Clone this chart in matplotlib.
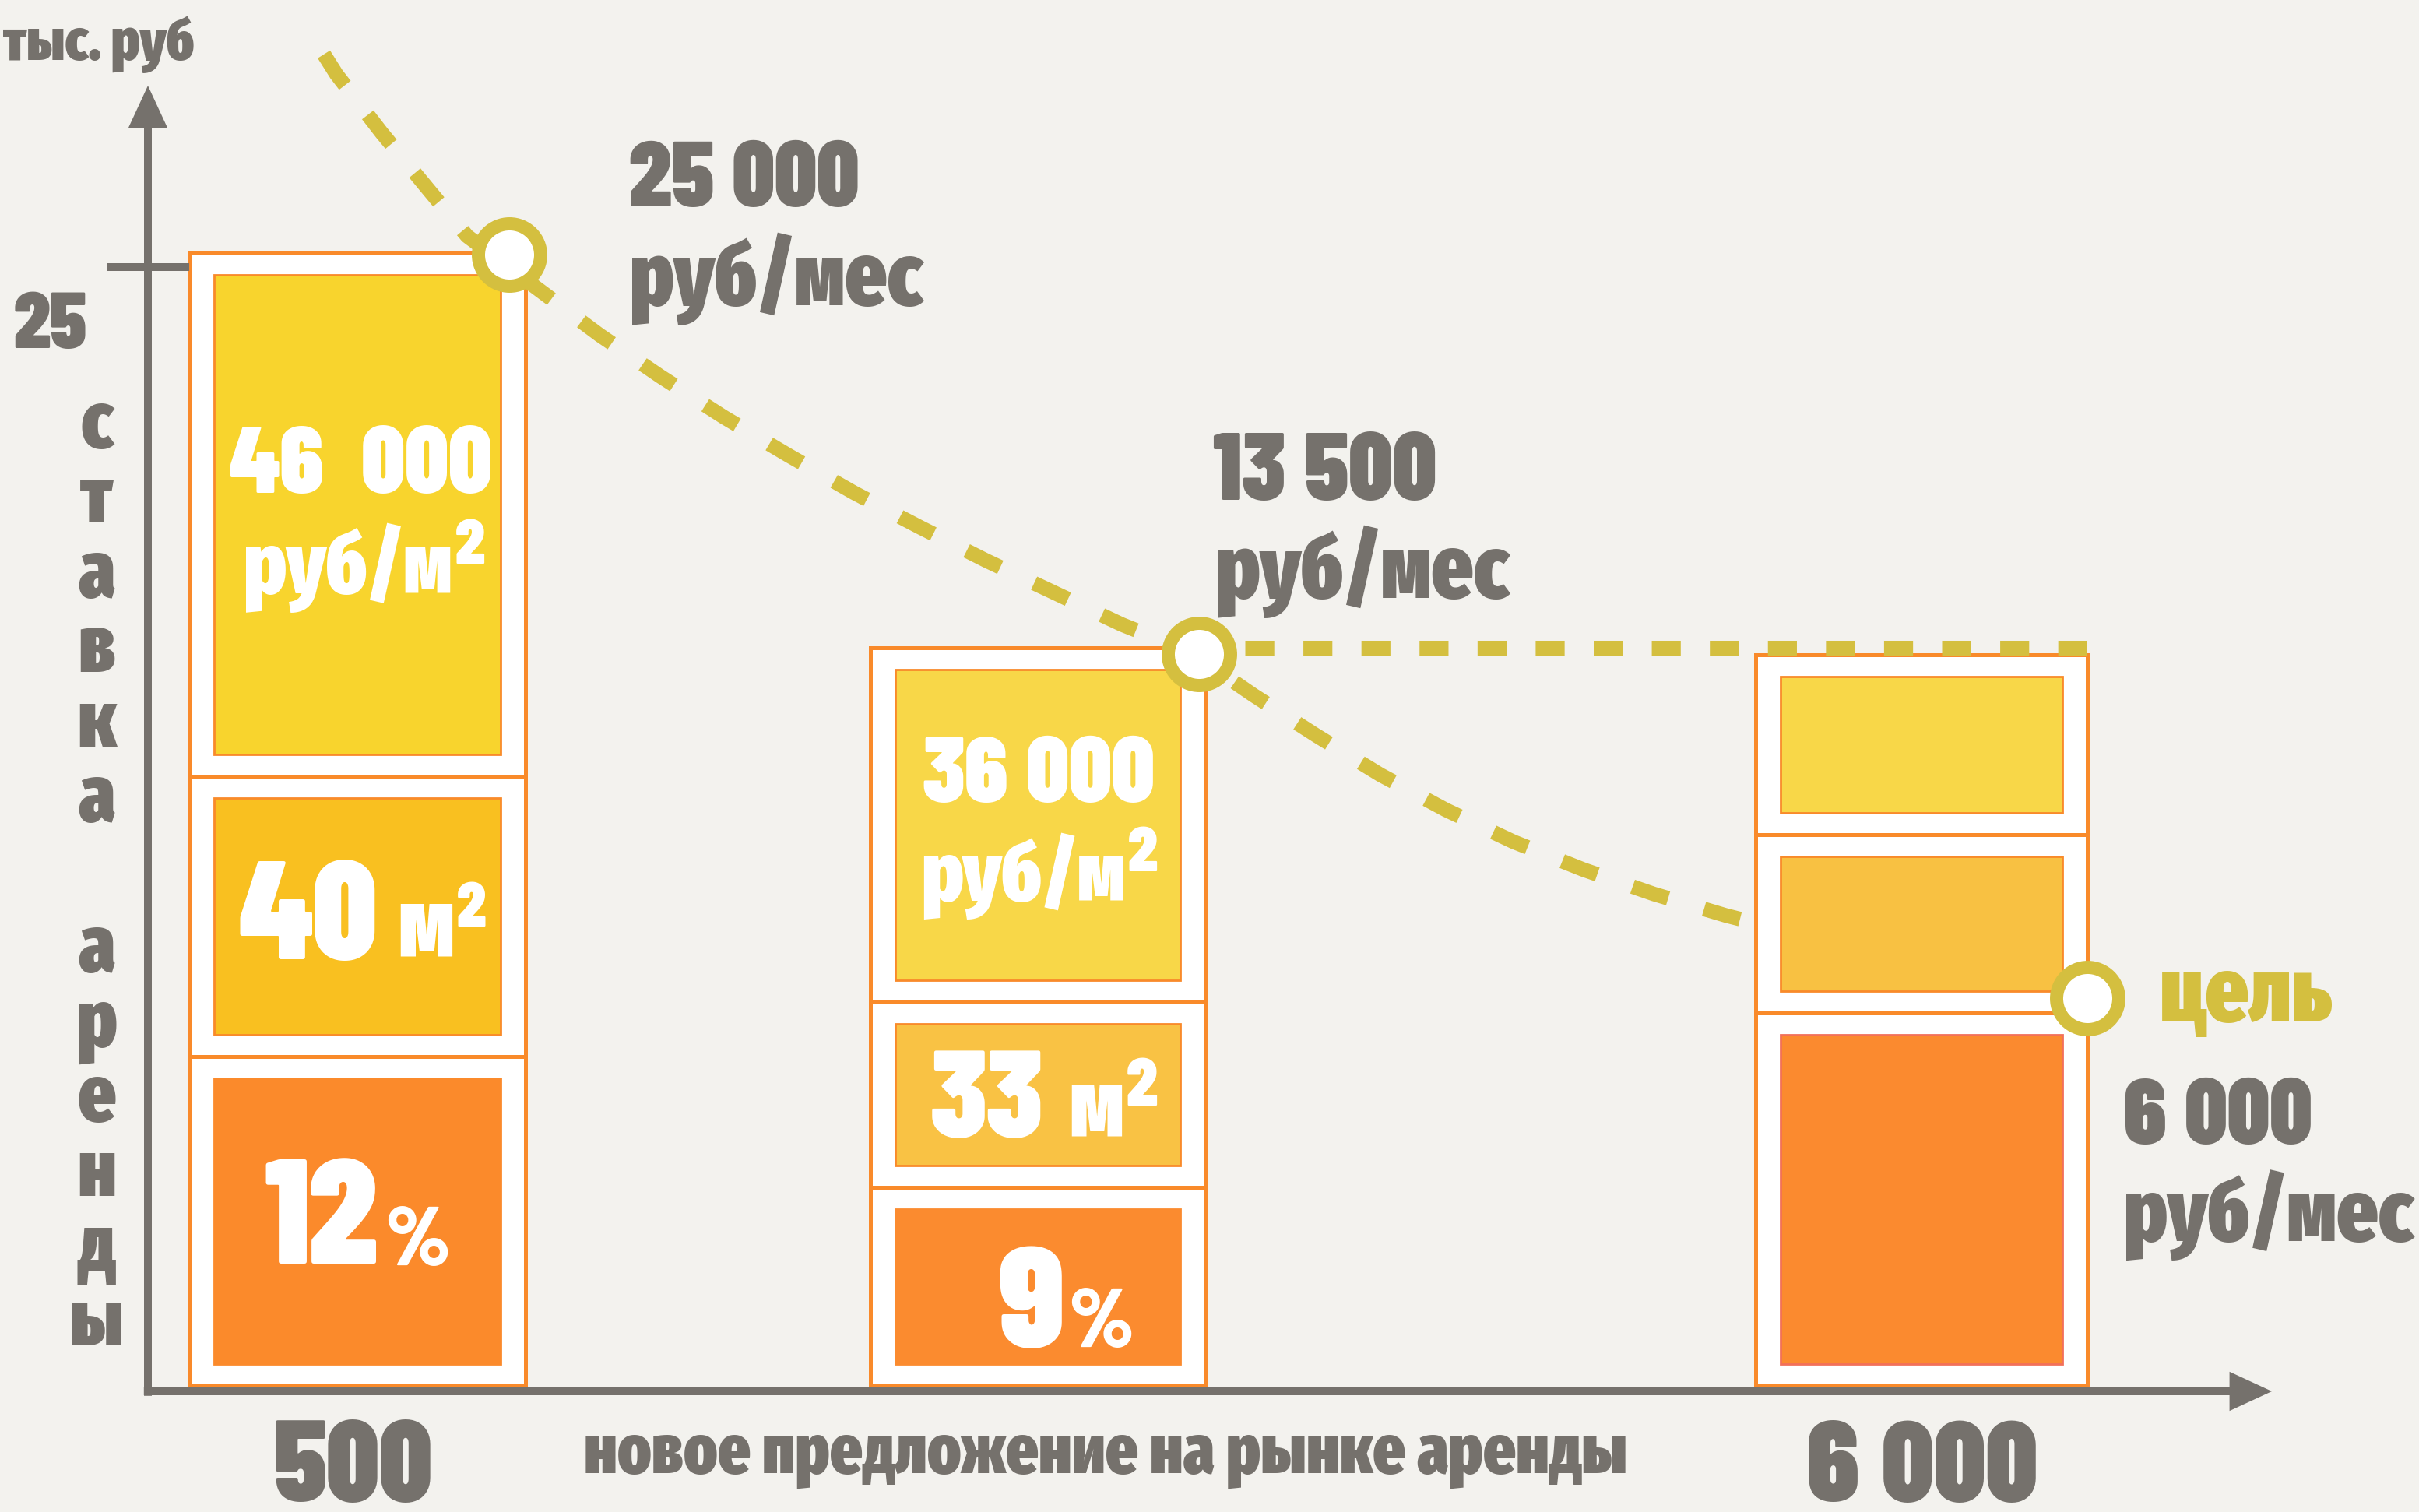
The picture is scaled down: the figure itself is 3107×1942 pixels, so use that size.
import numpy as np
import matplotlib
matplotlib.use("Agg")
import matplotlib.pyplot as plt
from matplotlib import font_manager as fm
from matplotlib.transforms import Affine2D

# ---------------- data ----------------
supply_labels = ["500", "6 000"]                 # new supply on the rental market
rent_values = ["25 000", "13 500", "6 000"]      # rent, руб/мес
price_values = ["46  000", "36 000"]             # price, руб/м2
area_values = ["40", "33"]                       # flat area, м2
yield_values = ["12", "9"]                       # yield, %
y_tick_value = 25
y_tick_label = "25"
y_unit_label = "тыс. руб"
y_axis_label = "ставка аренды"
x_axis_label = "новое предложение на рынке аренды"
goal_label = "цель"
unit_month = "руб/мес"
unit_price_base = "руб/м"
unit_area_base = "м"
unit_square = "2"
unit_pct = "%"

# stacked bars (chart units, y in тыс. руб scale)
bar_left = [0.918, 16.07, 35.75]
bar_width = [7.48, 7.44, 7.38]
seg_bounds = [[0.12, 7.44, 13.68, 25.31],
              [0.12, 4.54, 8.66, 16.53],
              [0.12, 8.41, 12.38, 16.38]]
seg_colors = [["#FB8A2B", "#F9C020", "#F8D42D"],
              ["#FB8B2F", "#F9C244", "#F8D748"],
              ["#FB8A2F", "#F8C142", "#F8D748"]]
seg_edges = [["#FB8A2B", "#F98A2A", "#F98A2A"],
             ["#FB8B2F", "#F98A2A", "#F98A2A"],
             ["#F2705A", "#F98A2A", "#F98A2A"]]

# rent markers and dashed rent curve
marker_x = [8.03, 23.37, 43.13]
marker_y = [25.28, 16.40, 8.74]
curve_x = [3.913, 4.190, 5.194, 6.250, 7.098, 8.864, 10.042, 11.409, 12.812,
           14.249, 15.703, 17.157, 18.646, 20.152, 21.659, 23.199, 24.584,
           25.987, 27.406, 28.861, 30.367, 31.925, 33.483, 35.093, 35.526]
curve_y = [29.73, 29.29, 27.99, 26.71, 25.69, 24.37, 23.49, 22.56, 21.66,
           20.81, 19.98, 19.22, 18.47, 17.76, 17.05, 16.43, 15.48,
           14.58, 13.71, 12.93, 12.22, 11.60, 11.06, 10.58, 10.47]
target_x = [24.39, 43.13]
target_y = [16.53, 16.53]

# ---------------- style ----------------
W, H = 3107, 1942
K = 57.76           # pixels per chart unit
X0, Y0 = 190, 1787  # pixel position of the origin
BG = "#F3F2EE"
GRAY = "#75716C"
OLIVE = "#D4BF3F"
ORANGE = "#F98A2A"
WHITE = "#FFFFFF"

names = {f.name for f in fm.fontManager.ttflist}


def pick(cands):
    for c in cands:
        if c in names:
            return c
    return "DejaVu Sans"


COND = pick(["Fira Sans Extra Condensed", "Sofia Sans Extra Condensed",
             "Roboto Condensed", "Fira Sans Condensed"])
DIG = pick(["Barlow Condensed", COND])

plt.rcParams["lines.scale_dashes"] = False

fig = plt.figure(figsize=(W / 100, H / 100), dpi=100, facecolor=BG)
ax = fig.add_axes([0, 0, 1, 1])
ax.set_facecolor(BG)
ax.set_xlim(-X0 / K, (W - X0) / K)
ax.set_ylim(-(H - Y0) / K, Y0 / K)
ax.axis("off")

ins_x = 32 / K
ins_y = 28 / K

# bars
for i in range(len(bar_left)):
    cx = bar_left[i] + bar_width[i] / 2
    b = seg_bounds[i]
    for j in range(len(b) - 1):
        h = b[j + 1] - b[j]
        ax.bar(cx, h, bottom=b[j], width=bar_width[i], color=WHITE,
               edgecolor=ORANGE, linewidth=3.6, zorder=2)
        ax.bar(cx, h - 2 * ins_y, bottom=b[j] + ins_y,
               width=bar_width[i] - 2 * ins_x, color=seg_colors[i][j],
               edgecolor=seg_edges[i][j], linewidth=2.0, zorder=3)

# axes with arrows
arrow = dict(arrowstyle="-|>,head_length=2.7,head_width=1.25", mutation_scale=10,
             lw=7.2, color=GRAY, shrinkA=0, shrinkB=0, joinstyle="miter",
             capstyle="butt")
ax.annotate("", xy=(0, (Y0 - 110) / K), xytext=(0, -0.1), arrowprops=arrow,
            zorder=5)
ax.annotate("", xy=((2918 - X0) / K, 0), xytext=(-0.09, 0), arrowprops=arrow,
            zorder=5)
tick_half = 53 / K
ax.plot([-tick_half, tick_half], [y_tick_value, y_tick_value], color=GRAY,
        lw=7.2, solid_capstyle="butt", zorder=5)

# dashed rent curve and target line
ax.plot(curve_x, curve_y, color=OLIVE, lw=13.5, dashes=(34.6, 34.6),
        dash_capstyle="butt", zorder=4)
ax.plot(target_x, target_y, color=OLIVE, lw=13.7, dashes=(26.8, 26.9),
        dash_capstyle="butt", zorder=4)
ax.plot(marker_x, marker_y, "o", ms=57.6, mfc=WHITE, mec=OLIVE, mew=12.2,
        ls="none", zorder=6)

# ---------------- texts (positioned in reference pixels) ----------------
PX = Affine2D().scale(1, -1).translate(0, H)
fitted = []
sups = []


def T(x, y, s, size, ha="left", color=WHITE, wmax=None, family=None):
    t = fig.text(x, y, s, transform=PX, fontsize=size, ha=ha, va="baseline",
                 color=color, family=family or COND, fontweight="black",
                 zorder=10)
    if wmax:
        fitted.append((t, wmax))
    return t


def SUP(main, y, size, color=WHITE):
    sups.append((main, y, size, color))


T(250, 77, y_unit_label, 62, ha="right", color=GRAY, wmax=246)
T(65, 447, y_tick_label, 81, ha="center", color=GRAY, wmax=94, family=DIG)

# rent labels
T(808, 265, rent_values[0], 89, color=GRAY, wmax=296, family=DIG)
T(809, 392, unit_month, 93, color=GRAY, wmax=376)
T(1558, 642, rent_values[1], 89, color=GRAY, wmax=287, family=DIG)
T(1562, 768, unit_month, 93, color=GRAY, wmax=376)
T(2774, 1312, goal_label, 93, color=OLIVE, wmax=222)
T(2728, 1469, rent_values[2], 89, color=GRAY, wmax=242, family=DIG)
T(2728, 1595, unit_month, 93, color=GRAY, wmax=372)

# bar 1 labels
T(463, 633, price_values[0], 88, ha="center", wmax=337, family=DIG)
m = T(313, 762, unit_price_base, 100, wmax=268); SUP(m, 762, 59)
T(485, 1232, area_values[0], 150, ha="right", wmax=178, family=DIG)
m = T(511, 1228, unit_area_base, 94, wmax=72); SUP(m, 1228, 58)
T(485, 1623, yield_values[0], 143, ha="right", wmax=146, family=DIG)
T(495, 1625, unit_pct, 100, wmax=82, family=DIG)

# bar 2 labels
T(1334, 1030, price_values[1], 89, ha="center", wmax=298, family=DIG)
m = T(1183, 1157, unit_price_base, 98, wmax=262); SUP(m, 1157, 59)
T(1340, 1461, area_values[1], 121, ha="right", wmax=145, family=DIG)
m = T(1373, 1458, unit_area_base, 97, wmax=70); SUP(m, 1458, 62)
T(1366, 1731, yield_values[1], 146, ha="right", wmax=84, family=DIG)
T(1373, 1730, unit_pct, 100, wmax=82, family=DIG)

# x labels
T(454, 1928, supply_labels[0], 108, ha="center", color=GRAY, wmax=204, family=DIG)
T(2469, 1928, supply_labels[1], 108, ha="center", color=GRAY, wmax=296, family=DIG)
T(1420, 1892, x_axis_label, 75, ha="center", color=GRAY, wmax=1340)

# vertical axis title, one letter per line
letters = list(y_axis_label)
base = np.linspace(575, 1728, len(letters))
for ch, yb in zip(letters, base):
    if ch.strip():
        T(124, yb, ch, 74, ha="center", color=GRAY)

fig.canvas.draw()
r = fig.canvas.get_renderer()
for t, wmax in fitted:
    w = t.get_window_extent(r).width
    if w > wmax:
        t.set_fontsize(t.get_fontsize() * wmax / w)

# superscript "2" placed right after its base text
for main, y, size, color in sups:
    bb = main.get_window_extent(r)
    T(bb.x1 + 4, y - 38, unit_square, size, color=color, family=DIG)

fig.savefig("out.png", dpi=100, facecolor=BG)
